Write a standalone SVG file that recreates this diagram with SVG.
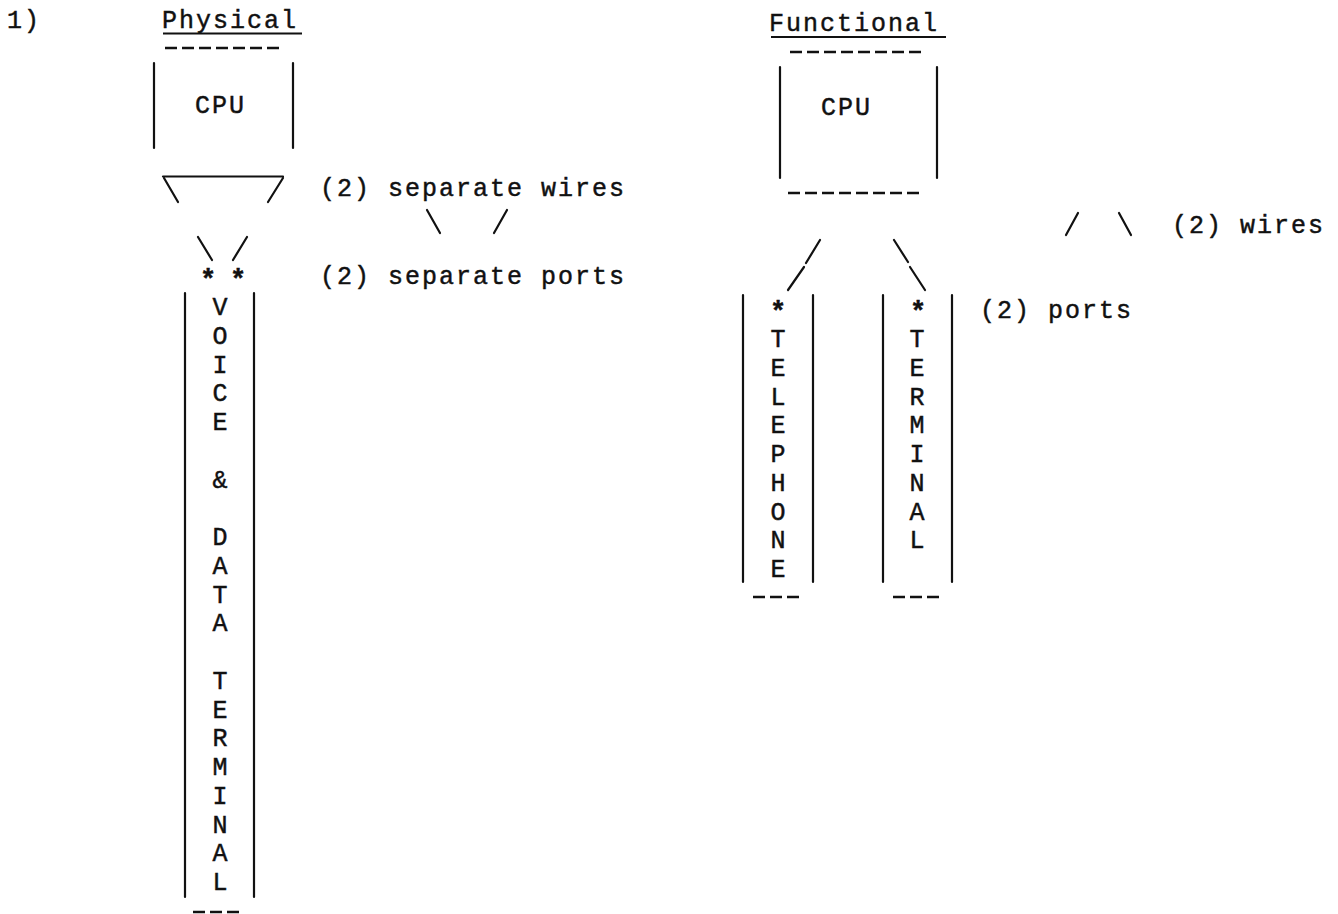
<svg xmlns="http://www.w3.org/2000/svg" width="1338" height="914" viewBox="0 0 1338 914">
<style>
text{font-family:"Liberation Mono","DejaVu Sans Mono",monospace;font-size:25px;fill:#111;stroke:#111;stroke-width:0.45}
.t{letter-spacing:2px}
.col{text-anchor:middle}
.star{text-anchor:middle;font-weight:bold;font-size:27px}
.ln{stroke:#111;stroke-width:2.2;fill:none;stroke-linecap:round}
.ul{stroke:#111;stroke-width:1.8;fill:none}
.dash{stroke:#111;stroke-width:2.4;fill:none;stroke-dasharray:12 5}
</style>
<rect width="1338" height="914" fill="#fff"/>
<g id="titles">
<text class="t" x="7" y="28">1)</text>
<text class="t" x="162" y="28">Physical</text>
<line class="ul" x1="163" y1="33.5" x2="302" y2="33.5"/>
<text class="t" x="769" y="31">Functional</text>
<line class="ul" x1="771" y1="37" x2="946" y2="37"/>
</g>
<g id="phys-cpu">
<line class="dash" x1="165" y1="48" x2="279" y2="48"/>
<line class="ln" x1="154" y1="63" x2="154" y2="148"/>
<line class="ln" x1="293" y1="63" x2="293" y2="148"/>
<text class="t" x="195" y="113">CPU</text>
</g>
<g id="phys-terminal">
<line class="ln" x1="185" y1="293" x2="185" y2="897"/>
<line class="ln" x1="254" y1="293" x2="254" y2="897"/>
<text class="star" x="208" y="288">*</text>
<text class="star" x="238" y="288">*</text>
<text class="col"><tspan x="220" y="315">V</tspan><tspan x="220" dy="28.75">O</tspan><tspan x="220" dy="28.75">I</tspan><tspan x="220" dy="28.75">C</tspan><tspan x="220" dy="28.75">E</tspan><tspan x="220" dy="57.5">&amp;</tspan><tspan x="220" dy="57.5">D</tspan><tspan x="220" dy="28.75">A</tspan><tspan x="220" dy="28.75">T</tspan><tspan x="220" dy="28.75">A</tspan><tspan x="220" dy="57.5">T</tspan><tspan x="220" dy="28.75">E</tspan><tspan x="220" dy="28.75">R</tspan><tspan x="220" dy="28.75">M</tspan><tspan x="220" dy="28.75">I</tspan><tspan x="220" dy="28.75">N</tspan><tspan x="220" dy="28.75">A</tspan><tspan x="220" dy="28.75">L</tspan></text>
<line class="dash" x1="193" y1="912" x2="243" y2="912"/>
</g>
<g id="phys-labels">
<text class="t" x="320" y="196">(2) separate wires</text>
<text class="t" x="320" y="284">(2) separate ports</text>
</g>
<g id="func-cpu">
<line class="dash" x1="790" y1="52" x2="921" y2="52"/>
<line class="ln" x1="780" y1="67" x2="780" y2="178"/>
<line class="ln" x1="937" y1="67" x2="937" y2="178"/>
<text class="t" x="821" y="115">CPU</text>
<line class="dash" x1="788" y1="193" x2="919" y2="193"/>
</g>
<g id="func-telephone">
<line class="ln" x1="743" y1="295" x2="743" y2="582"/>
<line class="ln" x1="813" y1="295" x2="813" y2="582"/>
<text class="star" x="778" y="320">*</text>
<text class="col"><tspan x="778" y="347">T</tspan><tspan x="778" dy="28.75">E</tspan><tspan x="778" dy="28.75">L</tspan><tspan x="778" dy="28.75">E</tspan><tspan x="778" dy="28.75">P</tspan><tspan x="778" dy="28.75">H</tspan><tspan x="778" dy="28.75">O</tspan><tspan x="778" dy="28.75">N</tspan><tspan x="778" dy="28.75">E</tspan></text>
<line class="dash" x1="753" y1="597" x2="799" y2="597"/>
</g>
<g id="func-terminal">
<line class="ln" x1="883" y1="295" x2="883" y2="582"/>
<line class="ln" x1="952" y1="295" x2="952" y2="582"/>
<text class="star" x="918" y="320">*</text>
<text class="col"><tspan x="917" y="347">T</tspan><tspan x="917" dy="28.75">E</tspan><tspan x="917" dy="28.75">R</tspan><tspan x="917" dy="28.75">M</tspan><tspan x="917" dy="28.75">I</tspan><tspan x="917" dy="28.75">N</tspan><tspan x="917" dy="28.75">A</tspan><tspan x="917" dy="28.75">L</tspan></text>
<line class="dash" x1="893" y1="597" x2="939" y2="597"/>
</g>
<g id="func-labels">
<text class="t" x="1172" y="233">(2) wires</text>
<text class="t" x="980" y="318">(2) ports</text>
</g>
<g id="connectors">
<path class="ln" d="M163 176.5 H283"/>
<line class="ln" x1="164" y1="178" x2="178" y2="202"/>
<line class="ln" x1="283" y1="178" x2="268" y2="202"/>
<line class="ln" x1="427" y1="210" x2="440" y2="233"/>
<line class="ln" x1="507" y1="210" x2="494" y2="233"/>
<line class="ln" x1="198" y1="237" x2="212" y2="260"/>
<line class="ln" x1="247" y1="237" x2="233" y2="260"/>
<line class="ln" x1="820" y1="240" x2="806" y2="263"/>
<line class="ln" x1="804" y1="267" x2="788" y2="290"/>
<line class="ln" x1="894" y1="240" x2="908" y2="262"/>
<line class="ln" x1="910" y1="267" x2="925" y2="290"/>
<line class="ln" x1="1078" y1="213" x2="1066" y2="235"/>
<line class="ln" x1="1119" y1="213" x2="1131" y2="235"/>
</g>
</svg>
